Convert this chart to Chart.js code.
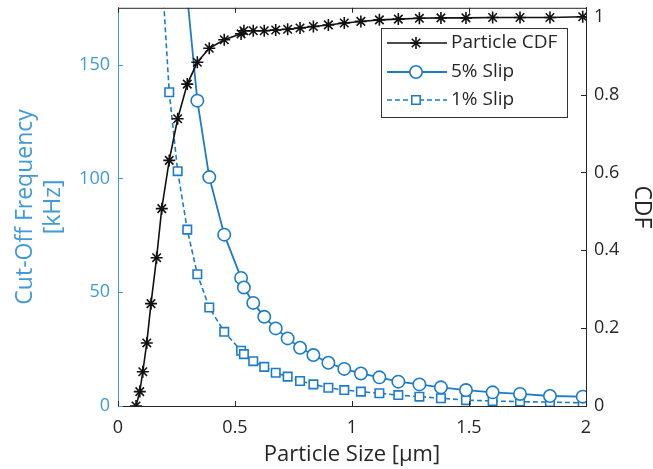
<!DOCTYPE html>
<html>
<head>
<meta charset="utf-8">
<script src="https://cdn.jsdelivr.net/npm/chart.js@4/dist/chart.umd.min.js"></script>
<style>
html,body{margin:0;padding:0;background:#fff;}
#wrap{width:653px;height:469px;position:relative;}
</style>
</head>
<body>
<div id="wrap"><canvas id="c" width="653" height="469"></canvas></div>
<script>
// ---- data ----
const particleSizes = [0.077, 0.093, 0.106, 0.123, 0.141, 0.165, 0.187, 0.219, 0.255, 0.296, 0.339, 0.390, 0.454, 0.526, 0.538, 0.578, 0.625, 0.674, 0.725, 0.778, 0.835, 0.899, 0.967, 1.038, 1.117, 1.198, 1.288, 1.380, 1.487, 1.601, 1.718, 1.846, 1.986];
const particleCDF = [0, 0.037, 0.088, 0.162, 0.263, 0.381, 0.507, 0.631, 0.738, 0.827, 0.883, 0.919, 0.941, 0.956, 0.964, 0.964, 0.964, 0.966, 0.968, 0.971, 0.975, 0.979, 0.984, 0.988, 0.992, 0.994, 0.996, 0.997, 0.997, 0.998, 0.998, 0.998, 1.0];
const slip5 = [null, null, null, null, null, null, null, null, null, 180, 134.2, 100.6, 75.3, 56.3, 52.1, 45.3, 39.2, 34.1, 29.7, 25.6, 22.4, 19.0, 16.3, 14.3, 12.6, 10.7, 9.5, 8.2, 7.0, 6.0, 5.3, 4.4, 4.1];
const slip1 = [null, null, null, null, null, null, 191, 137.9, 103.2, 77.5, 57.9, 43.3, 32.6, 24.3, 22.8, 19.7, 17.2, 14.6, 12.9, 11.0, 9.5, 8.0, 7.0, 6.3, 5.6, 4.8, 4.1, 3.4, 2.6, 2.2, 1.9, 1.7, 1.4];
const xTicks = [0, 0.5, 1, 1.5, 2];
const freqTicks = [0, 50, 100, 150];
const cdfTicks = [0, 0.2, 0.4, 0.6, 0.8, 1];
const seriesLabels = ['Particle CDF', '5% Slip', '1% Slip'];

const BLUE = '#1c7cc9';
const AXBLUE = '#3f9ad8';
const DARK = '#262626';
const FONT = "'Open Sans', sans-serif";

function pts(vals){ return particleSizes.map((x,i)=>({x:x, y:vals[i]})); }

function setTicks(list){ return function(scale){ scale.ticks = list.map(v=>({value:v})); }; }

const innerTicks = {
  id:'innerTicks',
  afterDatasetsDraw(chart){
    const {ctx, chartArea:a, scales} = chart;
    const L = 5;
    ctx.save();
    ctx.lineWidth = 1;
    ctx.strokeStyle = DARK;
    ctx.beginPath(); ctx.moveTo(a.left, a.top+0.5); ctx.lineTo(a.right, a.top+0.5); ctx.stroke();
    scales.x.ticks.forEach(t=>{
      const px = Math.round(scales.x.getPixelForValue(t.value))+0.5;
      ctx.beginPath();
      ctx.moveTo(px, a.bottom); ctx.lineTo(px, a.bottom-L);
      ctx.moveTo(px, a.top); ctx.lineTo(px, a.top+L);
      ctx.stroke();
    });
    scales.y1.ticks.forEach(t=>{
      const py = Math.round(scales.y1.getPixelForValue(t.value))+0.5;
      ctx.beginPath(); ctx.moveTo(a.right, py); ctx.lineTo(a.right-L, py); ctx.stroke();
    });
    ctx.strokeStyle = AXBLUE;
    scales.y.ticks.forEach(t=>{
      const py = Math.round(scales.y.getPixelForValue(t.value))+0.5;
      ctx.beginPath(); ctx.moveTo(a.left, py); ctx.lineTo(a.left+L, py); ctx.stroke();
    });
    ctx.restore();
  }
};

const matlabLegend = {
  id:'matlabLegend',
  afterDraw(chart){
    const ctx = chart.ctx;
    const box = {x:381, y:28, w:186, h:89};
    ctx.save();
    ctx.fillStyle = '#fff';
    ctx.fillRect(box.x, box.y, box.w, box.h);
    ctx.strokeStyle = '#333';
    ctx.lineWidth = 1;
    ctx.strokeRect(box.x+0.5, box.y+0.5, box.w, box.h);
    const rows = [43, 72, 100];
    chart.data.datasets.forEach((ds,i)=>{
      const y = rows[i];
      ctx.strokeStyle = ds.borderColor;
      ctx.lineWidth = ds.borderWidth;
      ctx.setLineDash(ds.borderDash || []);
      ctx.beginPath(); ctx.moveTo(387, y); ctx.lineTo(447, y); ctx.stroke();
      ctx.setLineDash([]);
      ctx.fillStyle = ds.pointBackgroundColor;
      ctx.strokeStyle = ds.pointBorderColor;
      ctx.lineWidth = ds.pointBorderWidth;
      Chart.helpers.drawPoint(ctx, {pointStyle: ds.pointStyle, radius: ds.pointRadius, rotation: 0, borderWidth: ds.pointBorderWidth}, 416, y);
      ctx.fillStyle = DARK;
      ctx.font = "19px " + FONT;
      ctx.textBaseline = 'middle';
      ctx.textAlign = 'left';
      ctx.fillText(ds.label, 451, y);
    });
    ctx.restore();
  }
};

new Chart(document.getElementById('c'), {
  type: 'line',
  data: {
    datasets: [
      {label: seriesLabels[0], data: pts(particleCDF), yAxisID:'y1', borderColor:'#111', borderWidth:1.6,
       pointStyle:'star', pointRadius:6, pointBorderColor:'#111', pointBackgroundColor:'#111', pointBorderWidth:1.6, order:0},
      {label: seriesLabels[1], data: pts(slip5), yAxisID:'y', borderColor:BLUE, borderWidth:1.8,
       pointStyle:'circle', pointRadius:6.2, pointBorderColor:BLUE, pointBackgroundColor:'#fff', pointBorderWidth:1.6, order:1},
      {label: seriesLabels[2], data: pts(slip1), yAxisID:'y', borderColor:BLUE, borderWidth:1.6, borderDash:[5,3],
       pointStyle:'rect', pointRadius:6, pointBorderColor:BLUE, pointBackgroundColor:'#fff', pointBorderWidth:1.6, order:2}
    ]
  },
  options: {
    responsive:false, animation:false,
    layout:{padding:{top:7, left:0, right:0, bottom:0}},
    plugins:{legend:{display:false}, tooltip:{enabled:false}},
    elements:{line:{tension:0}},
    scales:{
      x:{type:'linear', min:0, max:2, position:'bottom',
        afterBuildTicks:setTicks(xTicks),
        afterFit(s){ s.height = 63; s.paddingLeft=0; s.paddingRight=0; },
        grid:{display:true, drawOnChartArea:false, drawTicks:false},
        border:{display:true, color:DARK, width:1},
        ticks:{color:DARK, font:{family:FONT, size:18}, padding:11, maxRotation:0,
          callback:v=>String(v)},
        title:{display:true, text:'Particle Size [\u03bcm]', color:DARK, font:{family:FONT, size:22}, padding:{top:0,bottom:1}}
      },
      y:{type:'linear', min:0, max:175, position:'left',
        afterBuildTicks:setTicks(freqTicks),
        afterFit(s){ s.width = 118; s.paddingTop=0; s.paddingBottom=0; },
        grid:{display:true, drawOnChartArea:false, drawTicks:false},
        border:{display:true, color:AXBLUE, width:1},
        ticks:{color:AXBLUE, font:{family:FONT, size:18}, padding:8},
        title:{display:true, text:['Cut-Off Frequency','[kHz]'], color:AXBLUE, font:{family:FONT, size:23, lineHeight:1.22}, padding:{top:11,bottom:0}}
      },
      y1:{type:'linear', min:0, max:1.023, position:'right',
        afterBuildTicks:setTicks(cdfTicks),
        afterFit(s){ s.width = 67; s.paddingTop=0; s.paddingBottom=0; },
        grid:{display:true, drawOnChartArea:false, drawTicks:false},
        border:{display:true, color:DARK, width:1},
        ticks:{color:DARK, font:{family:FONT, size:18}, padding:8, callback:v=>String(Math.round(v*10)/10)},
        title:{display:true, text:'CDF', color:DARK, font:{family:FONT, size:23, lineHeight:1.0}, padding:{top:0,bottom:0}}
      }
    }
  },
  plugins:[innerTicks, matlabLegend]
});
</script>
</body>
</html>
